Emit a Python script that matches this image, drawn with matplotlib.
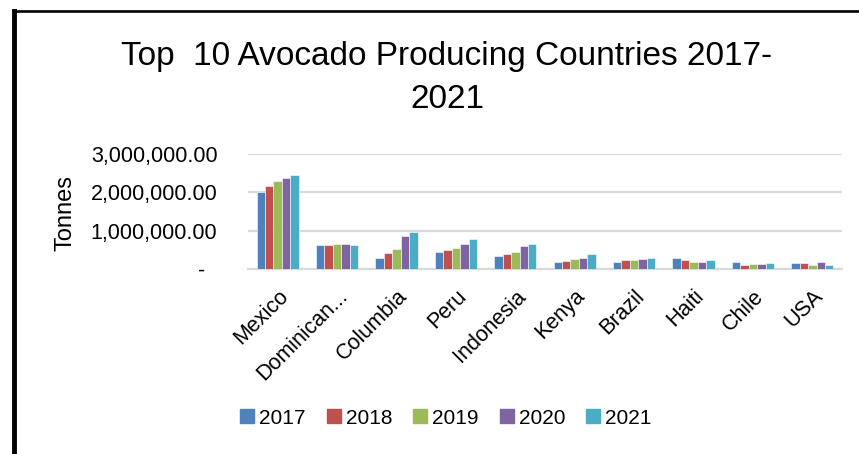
import numpy as np
import matplotlib
matplotlib.use("Agg")
import matplotlib.pyplot as plt
from matplotlib.lines import Line2D
from matplotlib.ticker import FuncFormatter

# data (tonnes)
countries = ["Mexico", "Dominican...", "Columbia", "Peru", "Indonesia",
             "Kenya", "Brazil", "Haiti", "Chile", "USA"]
years = ["2017", "2018", "2019", "2020", "2021"]
v2017 = [2020000, 620000, 290000, 440000, 350000, 190000, 190000, 280000, 170000, 150000]
v2018 = [2170000, 620000, 430000, 490000, 400000, 210000, 230000, 230000, 110000, 150000]
v2019 = [2300000, 640000, 520000, 560000, 440000, 250000, 230000, 170000, 130000, 100000]
v2020 = [2380000, 660000, 860000, 640000, 600000, 300000, 250000, 170000, 140000, 170000]
v2021 = [2440000, 620000, 970000, 770000, 650000, 390000, 280000, 230000, 150000, 110000]
series = [v2017, v2018, v2019, v2020, v2021]
colors = ["#4F81BD", "#C0504D", "#9BBB59", "#8064A2", "#4BACC6"]

plt.rcParams["font.family"] = ["Liberation Sans", "DejaVu Sans"]

fig = plt.figure(figsize=(8.59, 4.54), dpi=100)
W, H = 859, 454
ax = fig.add_axes([248 / W, 1 - 269 / H, (842 - 248) / W, (269 - 154) / H])

x = np.arange(len(countries))
bw = 0.142
for i, (vals, c) in enumerate(zip(series, colors)):
    ax.bar(x + (i - 2) * bw, vals, bw, color=c, edgecolor="white",
           linewidth=0.4, label=years[i], zorder=3)

ax.set_xlim(-0.5, len(countries) - 0.5)
ax.set_ylim(0, 3000000)
ax.set_yticks([0, 1000000, 2000000, 3000000])
ax.yaxis.set_major_formatter(FuncFormatter(
    lambda v, p: "-  " if v == 0 else f"{v:,.2f}"))
ax.grid(axis="y", color="#D9D9D9", linewidth=1.6, zorder=0)
for s in ["top", "right", "left"]:
    ax.spines[s].set_visible(False)
ax.spines["bottom"].set_color("#D9D9D9")
ax.spines["bottom"].set_linewidth(1.6)
ax.tick_params(axis="y", length=0, labelsize=15.5, pad=22)
ax.set_xticks(x)
ax.set_xticklabels(countries, rotation=45, ha="right", rotation_mode="anchor",
                   fontsize=15.5)
ax.tick_params(axis="x", length=0, pad=12)

fig.text(65 / W, 1 - 213 / H, "Tonnes", rotation=90, fontsize=17,
         ha="center", va="center")
fig.text(447 / W, 1 - 57 / H, "Top  10 Avocado Producing Countries 2017-",
         fontsize=24, ha="center", va="center")
fig.text(447 / W, 1 - 100 / H, "2021", fontsize=24, ha="center", va="center")

handles = [plt.Rectangle((0, 0), 1, 1, color=c) for c in colors]
fig.legend(handles, years, loc="center", bbox_to_anchor=(446 / W, 1 - 418 / H),
           ncol=5, frameon=False, fontsize=15, handlelength=0.67,
           handleheight=0.67, handletextpad=0.25, columnspacing=1.0)

# chart border (top and left visible)
fig.add_artist(Line2D([14 / W, 1], [1 - 11 / H, 1 - 11 / H], color="black",
                      linewidth=1.9, transform=fig.transFigure))
fig.add_artist(Line2D([14 / W, 14 / W], [0, 1 - 11 / H], color="black",
                      linewidth=3.5, transform=fig.transFigure))

fig.savefig("out.png", dpi=100)
